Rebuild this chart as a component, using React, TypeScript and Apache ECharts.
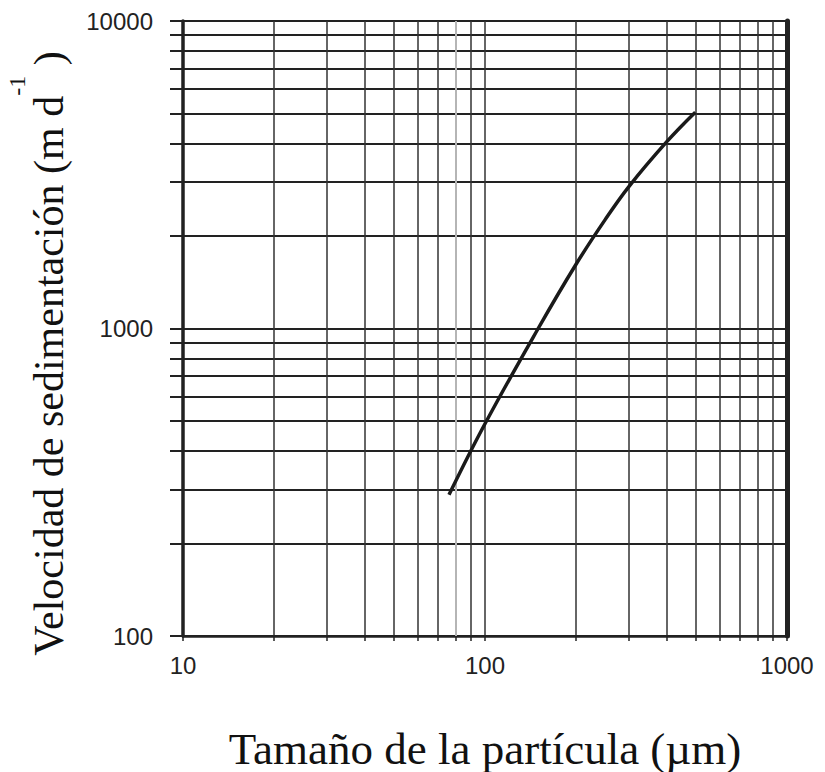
import React, { useEffect, useRef } from "react";
import * as echarts from "echarts";

const particleSize = [76, 100, 150, 200, 250, 300, 400, 497];
const settlingVelocity = [288, 490, 1000, 1615, 2260, 2900, 4050, 5050];

const xTickValues = [10, 20, 30, 40, 50, 60, 70, 80, 90, 100, 200, 300, 400, 500, 600, 700, 800, 900, 1000];
const xLabelValues = [10, 100, 1000];
const yTickValues = [100, 200, 300, 400, 500, 600, 700, 800, 900, 1000, 2000, 3000, 4000, 5000, 6000, 7000, 8000, 9000, 10000];
const yLabelValues = [100, 1000, 10000];
const fadedXLine = [80];

const xTitle = "Tamaño de la partícula (µm)";
const yTitleMain = "Velocidad de sedimentación (m d";
const yTitleSup = "-1";

export default function App() {
  const ref = useRef<HTMLDivElement>(null);
  useEffect(() => {
    if (!ref.current) return;
    const chart = echarts.init(ref.current, undefined, { renderer: "svg" });
    const ink = "#222";
    chart.setOption({
      animation: false,
      backgroundColor: "#ffffff",
      grid: { left: 183, right: 38, top: 21, bottom: 136, containLabel: false, outerBoundsMode: "none" },
      xAxis: {
        type: "log",
        logBase: 10,
        min: 10,
        max: 1000,
        name: xTitle,
        nameLocation: "middle",
        nameGap: 90,
        nameTextStyle: { fontFamily: "Liberation Serif", fontSize: 45, color: "#111" },
        axisLine: { show: true, onZero: false, lineStyle: { color: ink, width: 2.5 } },
        axisTick: { show: true, inside: false, length: 5, customValues: xTickValues, lineStyle: { color: ink, width: 1.5 } },
        axisLabel: {
          customValues: xLabelValues,
          margin: 17,
          fontFamily: "Liberation Sans",
          fontSize: 24,
          color: ink,
          formatter: (v: number) => String(Math.round(v)),
        },
        splitLine: { show: true, lineStyle: { color: "#333", width: 1.5 } },
      },
      yAxis: [
        {
          type: "log",
          logBase: 10,
          min: 100,
          max: 10000,
          name: "{a|" + yTitleMain + "}{s|" + yTitleSup + "}{a| )}",
          nameLocation: "middle",
          nameGap: 113,
          nameTextStyle: {
            fontFamily: "Liberation Serif",
            fontSize: 42,
            color: "#111",
            padding: [0, 50, 0, 0],
            rich: {
              a: { fontFamily: "Liberation Serif", fontSize: 42, lineHeight: 65, verticalAlign: "bottom", color: "#111" },
              s: { fontFamily: "Liberation Serif", fontSize: 24, lineHeight: 24, verticalAlign: "top", color: "#111" },
            },
          },
          axisLine: { show: true, onZero: false, lineStyle: { color: ink, width: 3.5 } },
          axisTick: { show: true, inside: false, length: 13, customValues: yTickValues, lineStyle: { color: ink, width: 2 } },
          axisLabel: {
            customValues: yLabelValues,
            margin: 30,
            fontFamily: "Liberation Sans",
            fontSize: 24,
            color: ink,
            formatter: (v: number) => String(Math.round(v)),
          },
          splitLine: { show: true, lineStyle: { color: ink, width: 2 } },
        },
        {
          type: "log",
          logBase: 10,
          min: 100,
          max: 10000,
          position: "right",
          axisLine: { show: true, onZero: false, lineStyle: { color: ink, width: 5 } },
          axisTick: { show: false },
          axisLabel: { show: false },
          splitLine: { show: false },
        },
      ],
      series: [
        {
          type: "line",
          yAxisIndex: 0,
          data: particleSize.map((x, i) => [x, settlingVelocity[i]]),
          showSymbol: false,
          symbol: "none",
          smooth: 0.4,
          lineStyle: { color: "#1a1a1a", width: 3.5 },
          markLine: {
            silent: true,
            symbol: "none",
            label: { show: false },
            lineStyle: { color: "#b5b5b5", width: 2, type: "solid" },
            data: fadedXLine.map((v) => ({ xAxis: v })),
          },
          z: 5,
        },
      ],
    });
    return () => chart.dispose();
  }, []);
  return <div ref={ref} style={{ position: "fixed", left: 0, top: 0, width: 825, height: 772 }} />;
}
